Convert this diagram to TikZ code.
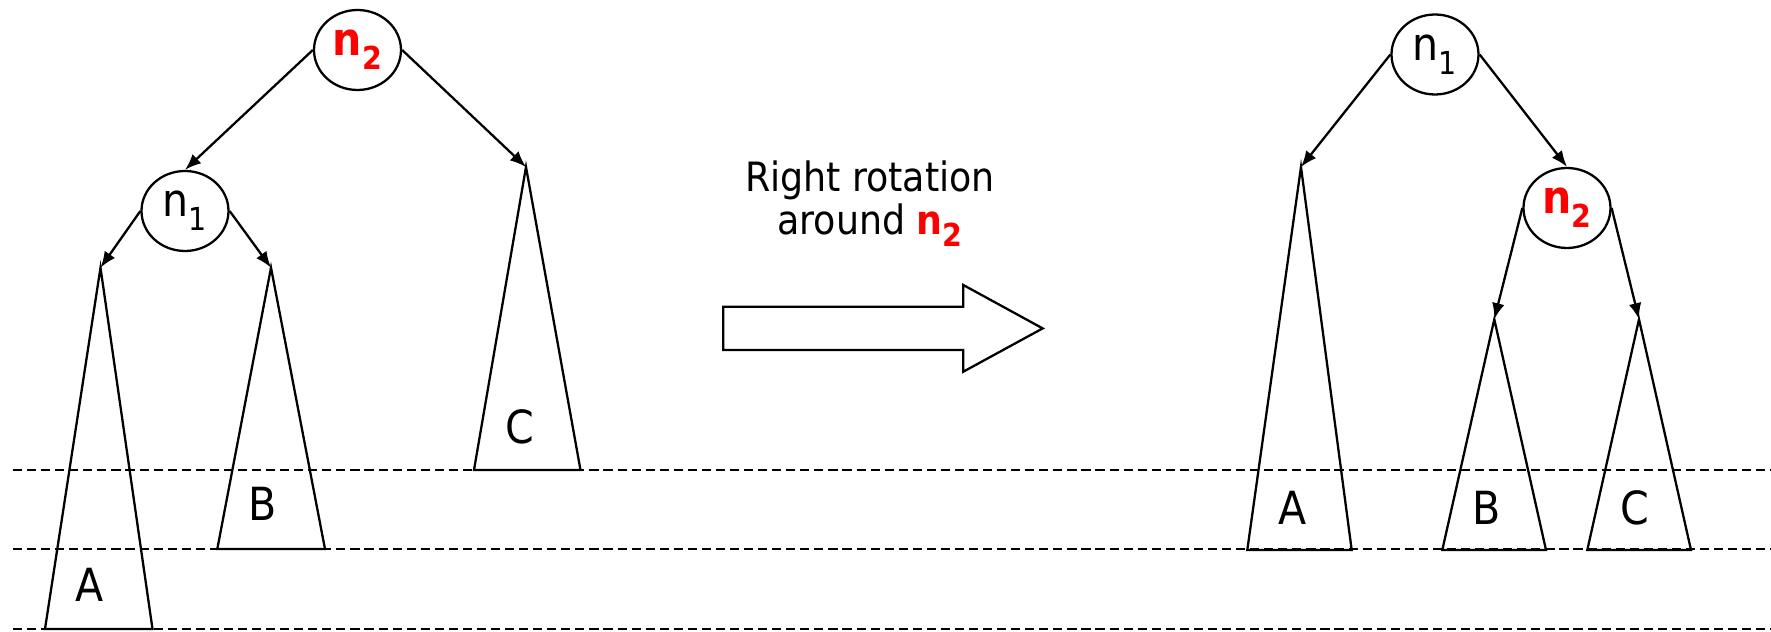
\documentclass[tikz,border=0pt]{standalone}
\usepackage{fontspec}
\setmainfont{DejaVu Sans Condensed}
\usepackage{tikz}
\usetikzlibrary{arrows.meta,shapes.geometric}

% node name with a lowered index
\newcommand{\nidx}[1]{n\raisebox{-0.3em}{\fontsize{9}{10}\selectfont #1}}

\begin{document}
\begin{tikzpicture}[
    treenode/.style={ellipse, draw, line width=0.65pt, minimum width=0.87cm, minimum height=0.80cm, inner sep=0pt, font=\fontsize{13}{15}\selectfont},
    hot/.style={text=red, font=\fontsize{13}{15}\selectfont\bfseries},
    link/.style={-{Latex[length=4.6pt,width=3.6pt]}, line width=0.65pt},
    subtree/.style={line width=0.65pt, line join=miter},
    tag/.style={font=\fontsize{13}{15}\selectfont},
    level/.style={dash pattern=on 2.6pt off 1.4pt, line width=0.7pt}
]
\useasboundingbox (0,0) rectangle (17.71,6.32);

% Height levels
\draw[level] (0.13,1.62) -- (17.71,1.62);
\draw[level] (0.13,0.83) -- (17.71,0.83);
\draw[level] (0.13,0.03) -- (17.71,0.03);

% Left tree
\node[treenode, hot] (ltop) at (3.575,5.82) {\nidx{2}};
\node[treenode] (lmid) at (1.85,4.21) {\nidx{1}};

\coordinate (lA) at (1.005,3.643);
\coordinate (lB) at (2.71,3.643);
\coordinate (lC) at (5.26,4.65);

\draw[subtree] (lA) -- (0.45,0.03) -- (1.525,0.03) -- cycle;
\draw[subtree] (lB) -- (2.173,0.83) -- (3.25,0.83) -- cycle;
\draw[subtree] (lC) -- (4.74,1.62) -- (5.805,1.62) -- cycle;

\node[tag] (lAtxt) at (0.90,0.47) {A};
\node[tag] (lBtxt) at (2.625,1.28) {B};
\node[tag] (lCtxt) at (5.195,2.05) {C};

\draw[link] (ltop.west) -- (lmid.north);
\draw[link] (ltop.east) -- (lC);
\draw[link] (lmid.west) -- (lA);
\draw[link] (lmid.east) -- (lB);

% Rotation arrow
\node[font=\fontsize{11.5}{10.8}\selectfont, align=center] (cap) at (8.70,4.28)
    {Right rotation\\around \textcolor{red}{\bfseries\nidx{2}}};
\draw[line width=0.65pt] (7.233,3.253) -- (9.633,3.253) -- (9.633,3.47) -- (10.427,3.036)
    -- (9.633,2.603) -- (9.633,2.82) -- (7.233,2.82) -- cycle;

% Right tree
\node[treenode] (rtop) at (14.35,5.775) {\nidx{1}};
\node[treenode, hot] (rmid) at (15.67,4.24) {\nidx{2}};

\coordinate (rA) at (13.01,4.65);
\coordinate (rB) at (14.943,3.127);
\coordinate (rC) at (16.39,3.127);

\draw[subtree] (rA) -- (12.473,0.82) -- (13.517,0.82) -- cycle;
\draw[subtree] (rB) -- (14.423,0.82) -- (15.46,0.82) -- cycle;
\draw[subtree] (rC) -- (15.873,0.82) -- (16.91,0.82) -- cycle;

\node[tag] (rAtxt) at (12.93,1.24) {A};
\node[tag] (rBtxt) at (14.87,1.24) {B};
\node[tag] (rCtxt) at (16.345,1.24) {C};

\draw[link] (rtop.west) -- (rA);
\draw[link] (rtop.east) -- (rmid.north);
\draw[link] (rmid.west) -- (rB);
\draw[link] (rmid.east) -- (rC);

\end{tikzpicture}
\end{document}
